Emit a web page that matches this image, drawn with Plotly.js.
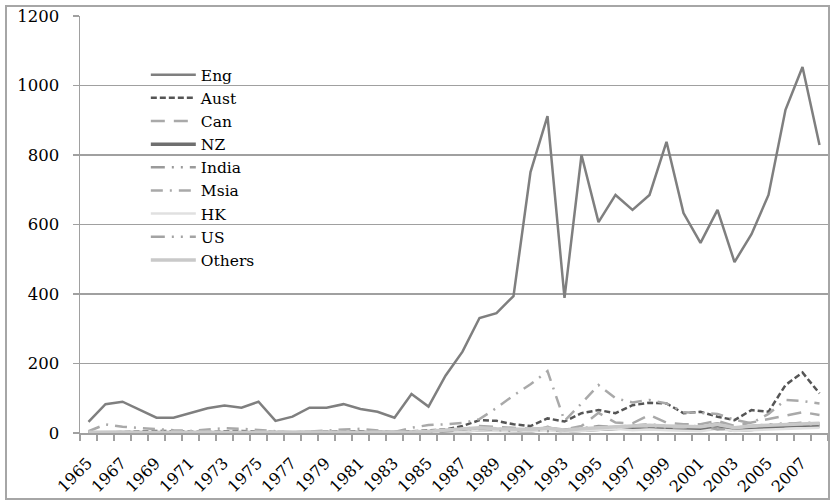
<!DOCTYPE html>
<html>
<head>
<meta charset="utf-8">
<script src="https://cdn.plot.ly/plotly-3.0.1.min.js"></script>
<style>
  html, body { margin: 0; padding: 0; background: #fff; }
  #wrap { position: relative; width: 834px; height: 504px; }
  #chart { position: absolute; left: 0; top: 0; width: 834px; height: 504px; }
  #frame { position: absolute; left: 5px; top: 5px; width: 825px; height: 495px;
           box-sizing: border-box; border: 2px solid #a6a6a6; pointer-events: none; }
</style>
</head>
<body>
<div id="wrap"><div id="chart"></div><div id="frame"></div></div>
<script>
const years = [1965,1966,1967,1968,1969,1970,1971,1972,1973,1974,1975,1976,1977,1978,1979,1980,1981,1982,1983,1984,1985,1986,1987,1988,1989,1990,1991,1992,1993,1994,1995,1996,1997,1998,1999,2000,2001,2002,2003,2004,2005,2006,2007,2008];
const tickYears = [1965,1967,1969,1971,1973,1975,1977,1979,1981,1983,1985,1987,1989,1991,1993,1995,1997,1999,2001,2003,2005,2007];

const eng    = [32,83,90,68,44,44,57,71,79,73,90,35,47,73,73,83,69,61,44,112,76,165,234,331,345,394,751,912,389,800,607,685,642,685,838,633,547,642,492,572,685,930,1053,829];
const aust   = [0,2,4,5,6,5,4,3,5,6,4,2,2,3,4,4,5,3,2,5,8,10,20,37,35,25,20,42,33,57,66,57,80,87,85,57,61,47,37,66,61,138,174,114];
const can    = [0,0,0,0,0,0,0,0,0,0,0,0,0,0,0,0,0,0,0,0,2,4,10,20,18,15,12,14,10,20,58,30,28,52,30,25,25,35,20,30,40,50,60,52];
const nz     = [0,0,0,0,0,0,0,0,0,0,0,0,0,0,0,0,0,0,0,0,2,3,5,10,8,6,5,15,4,8,10,12,15,18,15,12,10,15,8,10,15,20,22,20];
const india  = [0,0,0,0,0,0,0,0,0,0,0,0,0,0,0,0,0,0,0,0,0,2,4,15,12,10,8,18,6,12,20,18,22,25,20,18,20,28,15,20,25,25,30,28];
const msia   = [5,25,18,14,12,8,6,10,14,12,8,4,2,4,8,10,12,8,3,15,23,25,29,40,72,108,140,178,35,85,138,100,88,95,85,60,58,55,38,28,55,95,92,85];
const hk     = [0,0,0,0,0,0,0,0,0,0,0,0,0,0,0,0,0,0,0,0,0,2,3,8,6,5,4,8,3,6,10,12,8,10,8,6,5,12,6,8,10,12,15,15];
const us     = [0,0,0,0,0,0,0,0,0,0,0,0,0,0,0,0,0,0,0,0,2,4,10,12,8,6,12,5,10,15,15,18,20,18,15,15,22,10,15,20,25,28,25,24];
const others = [2,3,3,2,2,2,2,2,3,3,2,1,1,2,2,2,2,2,1,3,5,8,12,15,12,10,10,14,8,12,16,18,20,22,20,18,18,25,15,20,22,25,28,28];

const seriesNames = ['Eng','Aust','Can','NZ','India','Msia','HK','US','Others'];
const seriesData = [eng, aust, can, nz, india, msia, hk, us, others];
const styles = [
  {color:'#7f7f7f', width:2.5, dash:'solid'},
  {color:'#555555', width:2.5, dash:'6px,3px'},
  {color:'#a9a9a9', width:2.5, dash:'14px,9px'},
  {color:'#6f6f6f', width:3.5, dash:'solid'},
  {color:'#9a9a9a', width:2.5, dash:'14px,7px,2px,7px,2px,7px'},
  {color:'#a9a9a9', width:2.5, dash:'12px,7px,2px,7px'},
  {color:'#e0e0e0', width:2.5, dash:'solid'},
  {color:'#a3a3a3', width:2.5, dash:'14px,7px,2px,7px,2px,7px'},
  {color:'#c9c9c9', width:3.5, dash:'solid'}
];

const traces = seriesNames.map((n, i) => ({
  type: 'scatter', mode: 'lines', name: n,
  x: years, y: seriesData[i],
  line: Object.assign({}, styles[i]),
  hoverinfo: 'skip'
}));

const font = 'DejaVu Serif, Liberation Serif, serif';
const layout = {
  width: 834, height: 504,
  margin: {l: 80, r: 6, t: 16, b: 71},
  paper_bgcolor: '#ffffff', plot_bgcolor: '#ffffff',
  showlegend: true,
  legend: {
    x: 0.088, y: 0.899, xanchor: 'left', yanchor: 'top',
    bgcolor: 'rgba(0,0,0,0)', borderwidth: 0,
    font: {family: font, size: 15.5, color: '#000'},
    itemwidth: 45, tracegroupgap: 0
  },
  shapes: [{
    type: 'rect', xref: 'paper', yref: 'paper', layer: 'between',
    x0: 0.0107, x1: 0.3249, y0: 0.391, y1: 0.8897,
    fillcolor: '#ffffff', line: {width: 0}
  }],
  xaxis: {
    range: [1964.5, 2008.5],
    tickmode: 'array', tickvals: tickYears, ticktext: tickYears.map(String),
    ticks: '', tickangle: -45,
    tickfont: {family: font, size: 16, color: '#000'},
    ticklabelstandoff: 13, ticklabelshift: -1,
    showline: true, linecolor: '#a0a0a0', linewidth: 1.5,
    showgrid: false, zeroline: false,
    minor: {ticks: 'outside', tick0: 1964.5, dtick: 1, ticklen: 6, tickcolor: '#a0a0a0', tickwidth: 1.5, showgrid: false}
  },
  yaxis: {
    range: [0, 1200], tickvals: [0,200,400,600,800,1000,1200],
    ticks: 'outside', ticklen: 6, tickcolor: '#a0a0a0', tickwidth: 1.5,
    tickfont: {family: font, size: 16.5, color: '#000'},
    ticklabelstandoff: 10,
    showline: true, linecolor: '#a0a0a0', linewidth: 1.5,
    showgrid: true, gridcolor: '#a0a0a0', gridwidth: 1.5,
    zeroline: false
  }
};

Plotly.newPlot('chart', traces, layout, {displayModeBar: false, staticPlot: true});
</script>
</body>
</html>
